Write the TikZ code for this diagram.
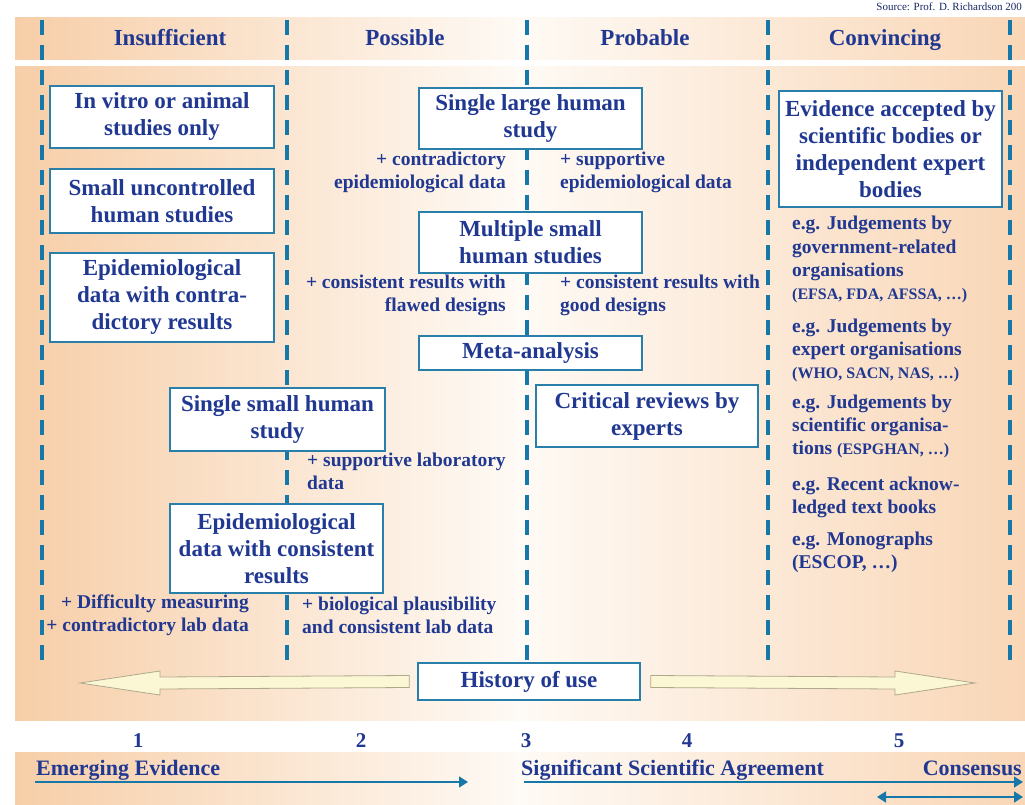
\documentclass[tikz,border=0pt]{standalone}
\usepackage{fontspec}
\setmainfont{Liberation Serif}
\usetikzlibrary{arrows.meta,calc}
\definecolor{txt}{RGB}{32,56,145}
\definecolor{dashc}{RGB}{22,120,168}
\definecolor{boxc}{RGB}{40,128,170}
\definecolor{peachL}{RGB}{247,206,168}
\definecolor{peachR}{RGB}{249,214,182}
\definecolor{midc}{RGB}{254,250,245}
\definecolor{yel}{RGB}{251,247,212}
\definecolor{yelb}{RGB}{175,168,140}
\begin{document}
\begin{tikzpicture}[x=1pt,y=-1pt,
  bx/.style={draw=boxc,line width=1.6pt,fill=white,align=center,inner sep=0pt,text=txt,font=\fontsize{23}{27}\selectfont\bfseries},
  lbl/.style={inner sep=0pt,text=txt,font=\fontsize{19.5}{23.3}\selectfont\bfseries},
  hdr/.style={inner sep=0pt,text=txt,font=\fontsize{23}{27}\selectfont\bfseries},
  dashline/.style={draw=dashc,line width=4pt,dash pattern=on 15pt off 10pt},
  band/.style={left color=peachL,right color=peachR,middle color=midc},
  tl/.style={draw=dashc,line width=1.6pt},
  hollow/.style={fill=yel,draw=yelb,line width=0.8pt},
]
\useasboundingbox (0,0) rectangle (1025,805);
% backgrounds
\shade[band] (15,18) rectangle (1025,60);
\shade[band] (15,67) rectangle (1025,720);
\shade[band] (15,752) rectangle (1025,805);
% source
\node[anchor=base east,inner sep=0pt,text=txt!70!black,font=\fontsize{11}{13}\selectfont] (src) at (1022,11) {Source: Prof. D. Richardson 200};
% dashed column lines
\foreach \xx/\nm in {42/d1,287/d2,527/d3,768/d4,1010/d5}{
  \coordinate (\nm t) at (\xx,20);
  \coordinate (\nm b) at (\xx,663);
  \draw[dashline] (\nm t) -- (\nm b);
}
% headers
\node[hdr,anchor=base] (h1) at (170,46) {Insufficient};
\node[hdr,anchor=base] (h2) at (405,46) {Possible};
\node[hdr,anchor=base] (h3) at (645,46) {Probable};
\node[hdr,anchor=base] (h4) at (885,46) {Convincing};
% boxes
\node[bx,minimum width=224pt,minimum height=62pt] (b1) at (162,117) {In vitro or animal\\studies only};
\node[bx,minimum width=224pt,minimum height=64pt] (b2) at (162,201) {Small uncontrolled\\human studies};
\node[bx,minimum width=224pt,minimum height=89pt] (b3) at (162,297.5) {Epidemiological\\data with contra-\\dictory results};
\node[bx,minimum width=223pt,minimum height=61pt] (b4) at (530.5,118.5) {Single large human\\study};
\node[bx,minimum width=223pt,minimum height=61pt] (b5) at (530.5,242.5) {Multiple small\\human studies};
\node[bx,minimum width=223pt,minimum height=34pt] (b6) at (530.5,353) {Meta-analysis};
\node[bx,minimum width=222pt,minimum height=62pt] (b7) at (647,416) {Critical reviews by\\experts};
\node[bx,minimum width=215pt,minimum height=63pt] (b8) at (277.5,419.5) {Single small human\\study};
\node[bx,minimum width=213pt,minimum height=89pt] (b9) at (276.5,548.5) {Epidemiological\\data with consistent\\results};
\node[bx,minimum width=223pt,minimum height=116pt] (b10) at (890.5,149) {Evidence accepted by\\scientific bodies or\\independent expert\\bodies};
% labels
\node[lbl,anchor=east,align=right] (l1) at (506,172.5) {+ contradictory\\epidemiological data};
\node[lbl,anchor=west,align=left] (l2) at (560,172.5) {+ supportive\\epidemiological data};
\node[lbl,anchor=east,align=right] (l3) at (506,295.5) {+ consistent results with\\flawed designs};
\node[lbl,anchor=west,align=left] (l4) at (560,295.5) {+ consistent results with\\good designs};
\node[lbl,anchor=west,align=left] (l5) at (307,471.5) {+ supportive laboratory\\data};
\node[lbl,anchor=east,align=right] (l6) at (249,615) {+ Difficulty measuring\\+ contradictory lab data};
\node[lbl,anchor=west,align=left] (l7) at (302,615) {+ biological plausibility\\and consistent lab data};
% convincing list
\node[lbl,anchor=north west,align=left] (g1) at (792,216) {e.g. Judgements by\\government-related\\organisations\\{\fontsize{16}{23.3}\selectfont (EFSA, FDA, AFSSA, …)}};
\node[lbl,anchor=north west,align=left] (g2) at (792,318.5) {e.g. Judgements by\\expert organisations\\{\fontsize{16}{23.3}\selectfont (WHO, SACN, NAS, …)}};
\node[lbl,anchor=north west,align=left] (g3) at (792,394.5) {e.g. Judgements by\\scientific organisa-\\tions {\fontsize{16}{23.3}\selectfont (ESPGHAN, …)}};
\node[lbl,anchor=north west,align=left] (g4) at (792,476.5) {e.g. Recent acknow-\\ledged text books};
\node[lbl,anchor=north west,align=left] (g5) at (792,531.5) {e.g. Monographs\\(ESCOP, …)};
% history of use
\node[bx,minimum width=222pt,minimum height=37pt] (b11) at (529,681.5) {History of use};
\draw[hollow] ($(b11.west)+(-8,-6)$) -- (160,677) -- (160,671) -- (80,683) -- (160,695) -- (160,689) -- ($(b11.west)+(-8,6)$) -- cycle;
\draw[hollow] ($(b11.east)+(10,-6)$) -- (895,677) -- (895,671) -- (975,683) -- (895,695) -- (895,689) -- ($(b11.east)+(10,6)$) -- cycle;
% bottom scale
\node[hdr,font=\fontsize{21}{24}\selectfont\bfseries] (n1) at (138,741) {1};
\node[hdr,font=\fontsize{21}{24}\selectfont\bfseries] (n2) at (361,741) {2};
\node[hdr,font=\fontsize{21}{24}\selectfont\bfseries] (n3) at (526,741) {3};
\node[hdr,font=\fontsize{21}{24}\selectfont\bfseries] (n4) at (687,741) {4};
\node[hdr,font=\fontsize{21}{24}\selectfont\bfseries] (n5) at (899,741) {5};
\node[hdr,anchor=base west,font=\fontsize{22}{26}\selectfont\bfseries] (t1) at (36,775) {Emerging Evidence};
\node[hdr,anchor=base west,font=\fontsize{22}{26}\selectfont\bfseries] (t2) at (521,775) {Significant Scientific Agreement};
\node[hdr,anchor=base east,font=\fontsize{22}{26}\selectfont\bfseries] (t3) at (1022,775) {Consensus};
\coordinate (e1) at (35,782);
\coordinate (e2) at (468,782);
\coordinate (s1) at (524,782);
\coordinate (s2) at (1023,782);
\coordinate (c1) at (877,797);
\coordinate (c2) at (1023,797);
\draw[tl,-{Triangle[length=9pt,width=11pt]}] (e1) -- (e2);
\draw[tl,-{Triangle[length=9pt,width=11pt]}] (s1) -- (s2);
\draw[tl,{Triangle[length=9pt,width=11pt]}-{Triangle[length=9pt,width=11pt]}] (c1) -- (c2);
\end{tikzpicture}
\end{document}
